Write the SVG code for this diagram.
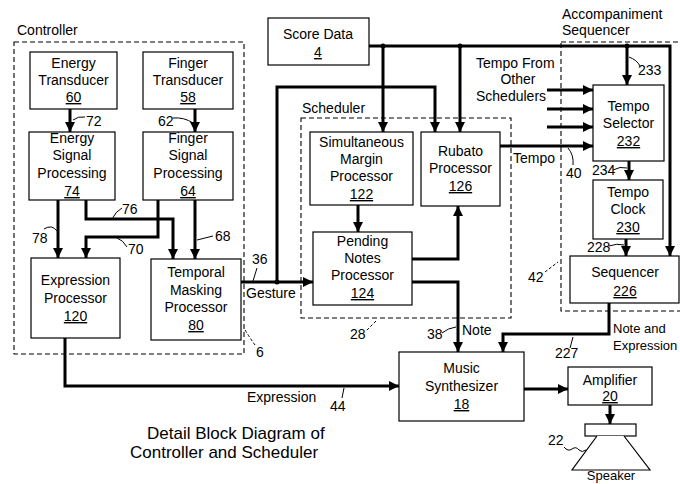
<svg xmlns="http://www.w3.org/2000/svg" width="680" height="484" viewBox="0 0 680 484">
<style>
text{font-family:"Liberation Sans",Arial,sans-serif;font-size:14px;fill:#000}
.c{text-anchor:middle}
.u{text-decoration:underline}
.sm{font-size:13px}
.box{fill:#fff;stroke:#000;stroke-width:1.2}
.dash{fill:none;stroke:#000;stroke-width:1.1;stroke-dasharray:5 3}
.w{fill:none;stroke:#000;stroke-width:3}
.a{marker-end:url(#ah)}
.ld{fill:none;stroke:#000;stroke-width:1}
.ldd{fill:none;stroke:#000;stroke-width:1;stroke-dasharray:3 2}
.title{font-size:17px}
</style>
<defs>
<marker id="ah" markerUnits="userSpaceOnUse" markerWidth="10" markerHeight="10" refX="10" refY="5" orient="auto"><path d="M0,0 L10,5 L0,10 z" fill="#000"/></marker>
</defs>
<rect width="680" height="484" fill="#fff"/>

<g id="controller-group">
<rect class="dash" x="14" y="42" width="230" height="312"/>
<text x="17" y="35">Controller</text>
<path class="ldd" d="M245,330 Q250,338 255,345"/>
<text x="256" y="357">6</text>
</g>
<g id="scheduler-group">
<rect class="dash" x="301" y="118" width="210" height="200"/>
<text x="302" y="113">Scheduler</text>
<path class="ldd" d="M376,321 L366,331"/>
<text x="350" y="339">28</text>
</g>
<g id="accompaniment-group">
<rect class="dash" x="561" y="42" width="130" height="269"/>
<text x="562" y="19">Accompaniment</text>
<text x="562" y="35">Sequencer</text>
<path class="ldd" d="M545,272 L558,262"/>
<text x="528" y="282">42</text>
</g>

<g id="connectors">
<path class="w a" d="M70,109 V132"/>
<path class="w a" d="M195,109 V132"/>
<path class="w a" d="M58,200 V258"/>
<path class="w a" d="M86,200 V219 H173 V259"/>
<path class="w a" d="M158,200 V237 H86 V258"/>
<path class="w a" d="M195,200 V259"/>
<path class="w a" d="M65,338 V386 H399"/>
<path class="w a" d="M241,282 H313"/>
<path class="w a" d="M277,282 V87 H435 V132"/>
<path class="w a" d="M369,46 H670 V256"/>
<path class="w a" d="M383,46 V132"/>
<path class="w a" d="M460,46 V132"/>
<path class="w a" d="M627,46 V85"/>
<path class="w a" d="M358,205 V232"/>
<path class="w a" d="M412,259 H458 V206"/>
<path class="w a" d="M412,282 H458 V352"/>
<path class="w a" d="M500,146 H593"/>
<path class="w a" d="M547,90 H593"/>
<path class="w a" d="M547,109 H593"/>
<path class="w a" d="M547,127 H593"/>
<path class="w a" d="M629,161 V180"/>
<path class="w a" d="M626,239 V256"/>
<path class="w a" d="M609,303 V334 H503 V352"/>
<path class="w a" d="M524,389 H568"/>
<path class="w a" d="M610,405 V424"/>
<circle cx="277" cy="282" r="2.5"/>
<circle cx="383" cy="46" r="2.5"/>
<circle cx="460" cy="46" r="2.5"/>
<circle cx="627" cy="46" r="2.5"/>
<path class="ld" d="M73,120 Q78,116 85,117"/><text x="86" y="126">72</text>
<path class="ld" d="M173,118 Q184,117 193,123"/><text x="158" y="126">62</text>
<path class="ld" d="M44,229 Q52,224 57,231"/><text x="32" y="243">78</text>
<path class="ld" d="M112,219 Q116,211 122,208"/><text x="122" y="214">76</text>
<path class="ld" d="M117,238 Q123,240 127,247"/><text x="128" y="254">70</text>
<path class="ld" d="M197,240 L213,236"/><text x="215" y="241">68</text>
<path class="ld" d="M253,281 L257,268"/><text x="252" y="264">36</text>
<text x="246" y="298">Gesture</text>
<path class="ld" d="M629,57 Q637,60 640,66"/><text x="638" y="75">233</text>
<text x="476" y="68">Tempo From</text>
<text x="518" y="84" class="c">Other</text>
<text x="476" y="101">Schedulers</text>
<text x="513" y="163">Tempo</text>
<path class="ld" d="M568,148 Q574,155 573,165"/><text x="566" y="178">40</text>
<path class="ld" d="M613,170 Q620,166 627,168"/><text x="592" y="175">234</text>
<path class="ld" d="M609,246 Q617,243 624,245"/><text x="587" y="252">228</text>
<path class="ld" d="M442,333 Q448,328 456,327"/><text x="427" y="339">38</text>
<text x="462" y="335">Note</text>
<text x="613" y="333" class="sm">Note and</text>
<text x="613" y="350" class="sm">Expression</text>
<path class="ld" d="M570,348 L573,337"/><text x="555" y="358">227</text>
<text x="247" y="402">Expression</text>
<path class="ld" d="M342,398 L344,388"/><text x="330" y="411">44</text>
<path class="ld" d="M564,447 q4,5 8,2 q4,-3 7,1 q3,3 7,0"/><text x="548" y="445">22</text>
</g>

<g id="energy-transducer">
<rect class="box" x="30" y="52" width="87" height="57"/>
<text class="c" x="73.5" y="68">Energy</text>
<text class="c" x="73.5" y="85">Transducer</text>
<text class="c u" x="73.5" y="102">60</text>
</g>
<g id="finger-transducer">
<rect class="box" x="143" y="52" width="90" height="57"/>
<text class="c" x="188" y="68">Finger</text>
<text class="c" x="188" y="85">Transducer</text>
<text class="c u" x="188" y="102">58</text>
</g>
<g id="energy-signal-processing">
<rect class="box" x="29" y="132" width="86" height="68"/>
<text class="c" x="72" y="143">Energy</text>
<text class="c" x="72" y="160">Signal</text>
<text class="c" x="72" y="178">Processing</text>
<text class="c u" x="72" y="196">74</text>
</g>
<g id="finger-signal-processing">
<rect class="box" x="143" y="132" width="90" height="68"/>
<text class="c" x="188" y="143">Finger</text>
<text class="c" x="188" y="160">Signal</text>
<text class="c" x="188" y="178">Processing</text>
<text class="c u" x="188" y="196">64</text>
</g>
<g id="expression-processor">
<rect class="box" x="31" y="258" width="89" height="80"/>
<text class="c" x="75.5" y="285">Expression</text>
<text class="c" x="75.5" y="303">Processor</text>
<text class="c u" x="75.5" y="321">120</text>
</g>
<g id="temporal-masking-processor">
<rect class="box" x="151" y="259" width="90" height="81"/>
<text class="c" x="196" y="277">Temporal</text>
<text class="c" x="196" y="295">Masking</text>
<text class="c" x="196" y="312">Processor</text>
<text class="c u" x="196" y="330">80</text>
</g>
<g id="score-data">
<rect class="box" x="268" y="18" width="101" height="47"/>
<text class="c" x="318" y="39">Score Data</text>
<text class="c u" x="318" y="57">4</text>
</g>
<g id="simultaneous-margin-processor">
<rect class="box" x="310" y="132" width="103" height="73"/>
<text class="c" x="361.5" y="147">Simultaneous</text>
<text class="c" x="361.5" y="164">Margin</text>
<text class="c" x="361.5" y="181">Processor</text>
<text class="c u" x="361.5" y="199">122</text>
</g>
<g id="pending-notes-processor">
<rect class="box" x="313" y="232" width="99" height="73"/>
<text class="c" x="362.5" y="246">Pending</text>
<text class="c" x="362.5" y="263">Notes</text>
<text class="c" x="362.5" y="280">Processor</text>
<text class="c u" x="362.5" y="298">124</text>
</g>
<g id="rubato-processor">
<rect class="box" x="421" y="132" width="79" height="74"/>
<text class="c" x="460.5" y="156">Rubato</text>
<text class="c" x="460.5" y="173">Processor</text>
<text class="c u" x="460.5" y="191">126</text>
</g>
<g id="tempo-selector">
<rect class="box" x="593" y="85" width="71" height="76"/>
<text class="c" x="628.5" y="111">Tempo</text>
<text class="c" x="628.5" y="128">Selector</text>
<text class="c u" x="628.5" y="146">232</text>
</g>
<g id="tempo-clock">
<rect class="box" x="593" y="180" width="70" height="59"/>
<text class="c" x="628" y="197">Tempo</text>
<text class="c" x="628" y="214">Clock</text>
<text class="c u" x="628" y="232">230</text>
</g>
<g id="sequencer">
<rect class="box" x="570" y="256" width="109" height="47"/>
<text class="c" x="625" y="277">Sequencer</text>
<text class="c u" x="625" y="296">226</text>
</g>
<g id="music-synthesizer">
<rect class="box" x="399" y="352" width="125" height="69"/>
<text class="c" x="461.5" y="373">Music</text>
<text class="c" x="461.5" y="391">Synthesizer</text>
<text class="c u" x="461.5" y="409">18</text>
</g>
<g id="amplifier">
<rect class="box" x="568" y="367" width="84" height="38"/>
<text class="c" x="610" y="385">Amplifier</text>
<text class="c u" x="610" y="401">20</text>
</g>
<g id="speaker">
<rect class="box" x="585" y="424" width="51" height="12"/>
<path class="box" d="M597,436 L572,470 L650,470 L624,436"/>
<text class="c sm" x="611" y="480">Speaker</text>
</g>

<g id="caption">
<text class="title" x="147" y="439">Detail Block Diagram of</text>
<text class="title" x="130" y="458">Controller and Scheduler</text>
</g>
</svg>
